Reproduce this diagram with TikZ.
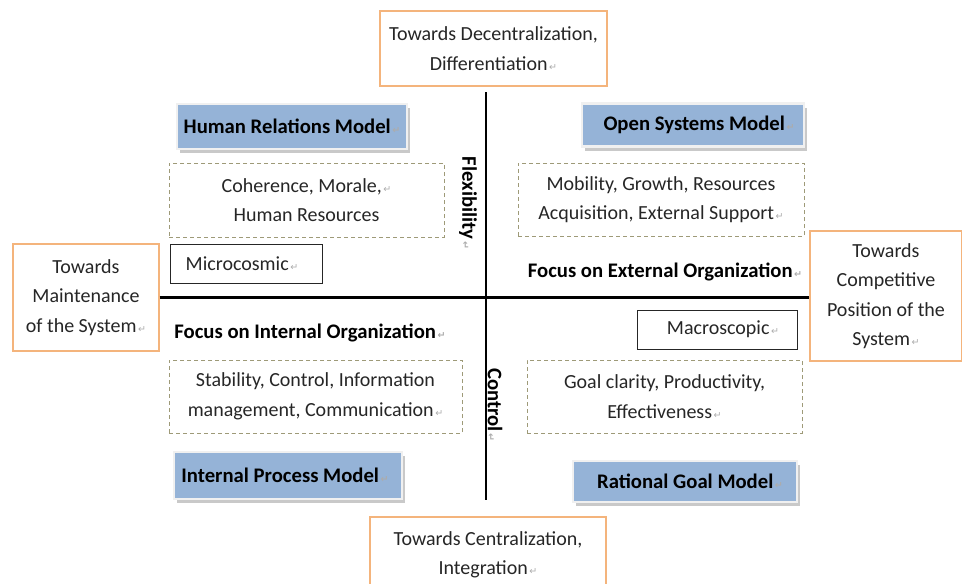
\documentclass[tikz,border=0pt]{standalone}
\usepackage{fontspec}
\setmainfont{Carlito}
\newfontfamily\markfont{DejaVu Sans}
\usetikzlibrary{shadows}
\definecolor{boxorange}{HTML}{F4B47C}
\definecolor{modelblue}{HTML}{95B3D7}
\definecolor{dashgray}{HTML}{9E9A78}
% small grey paragraph mark after a line
\newcommand{\parmark}{{\color{gray!65}\markfont\fontsize{9.5}{9.5}\selectfont\,↵}}
\tikzset{
  txt/.style={font=\fontsize{20}{29.5}\selectfont, align=center, text=black!85},
  bold/.style={font=\fontsize{20.7}{29.5}\selectfont\bfseries, align=center, text=black},
  dirbox/.style={txt, draw=boxorange, line width=1.2pt, fill=white, inner sep=0pt},
  modelbox/.style={bold, fill=modelblue, draw=gray!12, line width=2.5pt, inner sep=0pt,
    drop shadow={shadow xshift=2.5pt, shadow yshift=-4pt, fill=gray!50, opacity=0.85}},
  valuebox/.style={txt, draw=dashgray, dashed, dash pattern=on 4pt off 3pt, line width=0.9pt, inner sep=0pt},
  scalebox/.style={txt, draw=black!85, line width=1pt, inner sep=0pt},
  axis/.style={line width=2.4pt, black}
}
\begin{document}
\begin{tikzpicture}[x=1pt, y=-1pt]
\useasboundingbox (0,0) rectangle (962,584);

% axes
\coordinate (vtop) at (486,92);
\coordinate (vbot) at (486,500);
\draw[axis] (vtop) -- (vbot);

% direction boxes
\node[dirbox, minimum width=227, minimum height=75] (top) at (493.5,48.5)
  {Towards Decentralization,\\Differentiation\parmark};
\node[dirbox, minimum width=146, minimum height=107] (left) at (86,297.5)
  {Towards\\Maintenance\\of the System\parmark};
\node[dirbox, minimum width=152, minimum height=130] (right) at (886,296)
  {Towards\\Competitive\\Position of the\\System\parmark};
\node[dirbox, minimum width=236, minimum height=76] (bottom) at (488,555)
  {Towards Centralization,\\Integration\parmark};

\draw[axis] (left.east) -- (left.east -| right.west);

% quadrant models
\node[modelbox, minimum width=230, minimum height=45] (hrm) at (292,126.5)
  {Human Relations Model\parmark};
\node[modelbox, minimum width=222, minimum height=43] (osm) at (693,125)
  {\hspace*{12pt}Open Systems Model\parmark};
\node[modelbox, minimum width=228, minimum height=47] (ipm) at (288,475.5)
  {Internal Process Model\parmark\hspace*{6pt}};
\node[modelbox, minimum width=224, minimum height=41] (rgm) at (685,481.5)
  {\hspace*{10pt}Rational Goal Model\parmark};

% values of each quadrant
\node[valuebox, minimum width=275, minimum height=74] (hrmval) at (306.5,200)
  {Coherence, Morale,\parmark\\Human Resources};
\node[valuebox, minimum width=286, minimum height=73] (osmval) at (661,199.5)
  {Mobility, Growth, Resources\\Acquisition, External Support\parmark};
\node[valuebox, minimum width=293, minimum height=73] (ipmval) at (315.5,396.5)
  {Stability, Control, Information\\management, Communication\parmark};
\node[valuebox, minimum width=275, minimum height=73] (rgmval) at (664.5,396.5)
  {Goal clarity, Productivity,\\Effectiveness\parmark};

% scale boxes
\node[scalebox, minimum width=152, minimum height=39] (micro) at (246,263.5)
  {Microcosmic\parmark\hspace*{8pt}};
\node[scalebox, minimum width=160, minimum height=39] (macro) at (717,329.5)
  {\hspace*{12pt}Macroscopic\parmark};

% focus labels
\node[bold] (fext) at (665,272) {Focus on External Organization\parmark};
\node[bold] (fint) at (310,333) {Focus on Internal Organization\parmark};

% axis labels
\node[bold, rotate=-90] (flex) at (468,203) {Flexibility\parmark};
\node[bold, rotate=-90] (ctrl) at (495,405) {Control\parmark};
\end{tikzpicture}
\end{document}
